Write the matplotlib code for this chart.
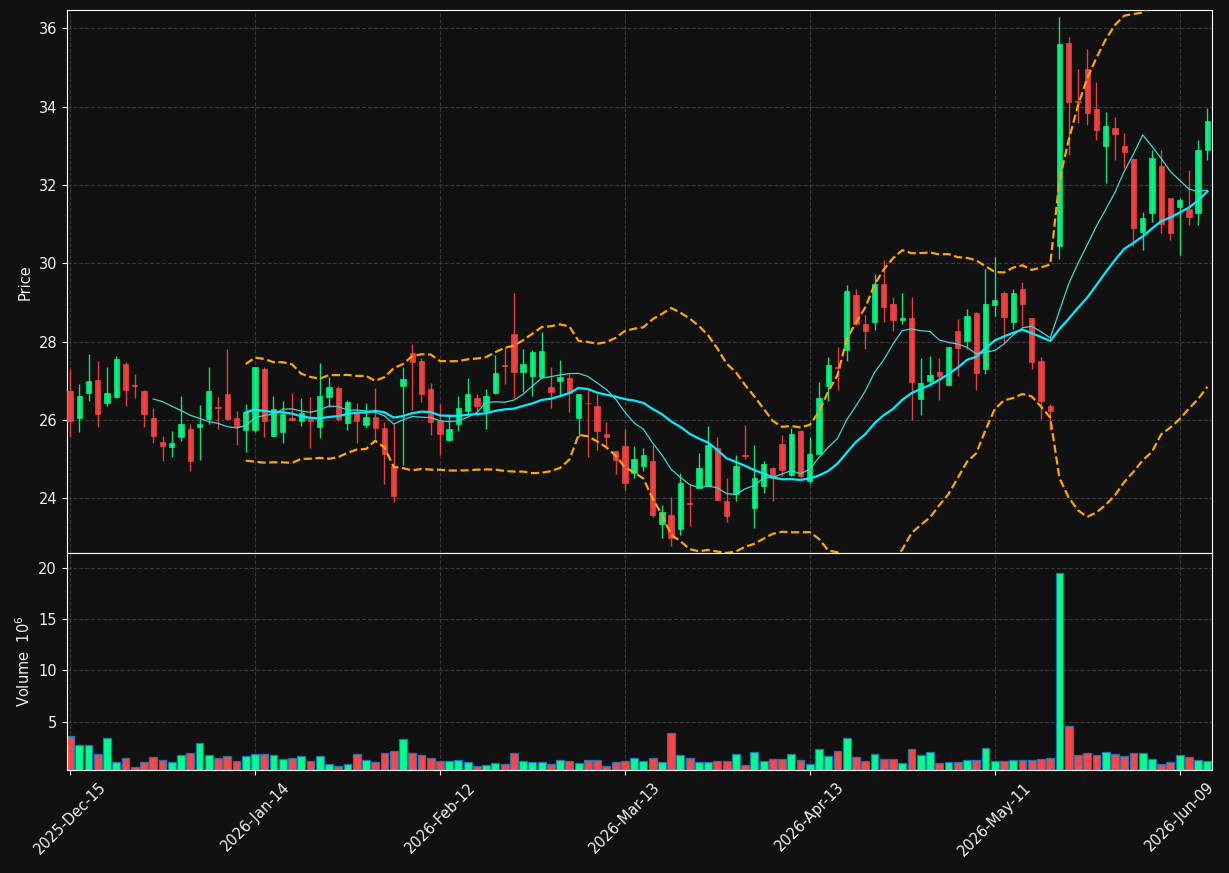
import numpy as np
import pandas as pd
import matplotlib
matplotlib.use("Agg")
import matplotlib.pyplot as plt

# daily OHLC, 124 trading sessions (2025-Dec-15 .. 2026-Jun-12)
opens = [26.74, 26.05, 26.69, 27.02, 26.42, 26.59, 27.42, 26.88, 26.74, 26.05,
         25.44, 25.30, 25.55, 25.77, 25.81, 26.03, 26.33, 26.66, 26.05, 25.75,
         25.75, 27.31, 25.60, 25.70, 26.04, 25.97, 26.04, 25.81, 26.59, 26.81,
         25.91, 26.18, 25.88, 26.08, 25.80, 24.83, 26.87, 27.70, 27.50, 26.79,
         25.97, 25.48, 25.89, 26.22, 26.57, 26.22, 26.69, 27.39, 28.19, 27.21,
         27.13, 27.10, 26.84, 26.98, 27.07, 26.04, 26.44, 26.36, 25.63, 25.20,
         25.32, 24.63, 24.82, 24.96, 23.35, 23.57, 23.20, 23.87, 24.27, 24.32,
         25.27, 23.92, 24.10, 25.11, 23.76, 24.31, 24.78, 25.39, 24.59, 25.72,
         24.44, 25.13, 26.87, 27.35, 27.78, 29.18, 28.45, 28.51, 29.48, 28.96,
         28.54, 28.60, 26.52, 26.99, 27.21, 26.90, 28.26, 28.01, 28.74, 27.31,
         28.94, 29.23, 28.51, 29.35, 28.59, 27.51, 26.36, 30.43, 35.63, 34.15,
         34.96, 33.94, 32.99, 33.46, 33.00, 32.67, 30.81, 31.29, 32.48, 31.66,
         31.43, 31.38, 31.28, 32.90]
highs = [27.31, 26.92, 27.69, 27.51, 27.34, 27.64, 27.49, 27.17, 26.77, 26.30,
         25.58, 25.71, 26.60, 25.90, 26.37, 27.36, 26.59, 27.81, 26.22, 26.41,
         27.36, 27.36, 26.60, 26.48, 26.68, 26.55, 26.59, 27.45, 27.10, 26.86,
         26.50, 26.42, 26.42, 26.81, 25.94, 25.90, 27.34, 27.93, 27.57, 26.94,
         26.40, 26.14, 26.62, 27.08, 26.65, 26.78, 27.65, 27.85, 29.24, 27.82,
         27.78, 28.25, 27.34, 27.53, 27.16, 26.67, 26.75, 26.68, 25.94, 25.21,
         25.76, 25.33, 25.28, 25.37, 23.83, 24.04, 24.63, 24.34, 25.16, 25.84,
         25.56, 24.52, 25.10, 25.87, 25.37, 24.96, 24.79, 25.62, 25.79, 25.73,
         25.55, 26.96, 27.61, 27.87, 29.45, 29.33, 28.68, 29.73, 30.08, 29.14,
         29.23, 29.13, 27.59, 27.63, 27.59, 27.85, 28.57, 28.82, 28.75, 29.85,
         30.16, 29.30, 29.34, 29.52, 28.60, 27.60, 26.41, 36.29, 35.77, 34.96,
         35.47, 34.64, 33.86, 33.73, 33.32, 32.68, 31.32, 32.88, 32.88, 31.67,
         31.66, 32.39, 33.14, 33.97]
lows = [25.56, 25.68, 26.49, 25.81, 26.35, 26.55, 26.35, 26.55, 25.81, 25.41,
        24.94, 25.05, 25.45, 24.69, 24.97, 25.90, 25.76, 25.99, 25.35, 25.18,
        25.69, 25.56, 25.58, 25.41, 25.96, 25.84, 25.28, 25.53, 26.34, 25.97,
        25.75, 25.41, 25.79, 25.51, 24.36, 23.89, 24.84, 26.25, 26.45, 25.61,
        25.09, 25.47, 25.72, 26.16, 26.10, 25.76, 26.65, 26.92, 26.58, 26.70,
        26.61, 27.09, 26.30, 26.62, 26.20, 25.57, 25.04, 25.23, 25.33, 24.61,
        24.21, 24.51, 24.69, 23.51, 22.99, 22.78, 23.07, 23.30, 24.25, 24.31,
        23.95, 23.38, 23.92, 25.00, 23.24, 24.14, 23.93, 24.57, 24.57, 24.52,
        24.35, 25.12, 26.49, 26.76, 27.50, 28.42, 27.82, 28.29, 28.51, 28.26,
        28.45, 25.99, 26.12, 26.87, 26.50, 26.89, 27.13, 27.80, 26.76, 27.17,
        28.65, 27.97, 28.31, 28.40, 27.31, 26.02, 25.74, 30.11, 32.77, 33.59,
        33.54, 33.14, 32.04, 32.63, 32.42, 30.43, 30.34, 31.06, 30.77, 30.60,
        30.22, 30.98, 30.98, 32.63]
closes = [25.98, 26.60, 26.99, 26.16, 26.69, 27.55, 26.75, 26.86, 26.14, 25.60,
          25.32, 25.42, 25.90, 24.94, 25.89, 26.74, 26.29, 26.01, 25.83, 26.19,
          27.35, 25.98, 26.27, 26.15, 26.00, 26.17, 25.98, 26.61, 26.84, 26.03,
          26.46, 25.98, 26.07, 25.78, 25.12, 24.05, 27.04, 27.48, 26.66, 25.94,
          25.64, 25.76, 26.29, 26.67, 26.35, 26.62, 27.20, 27.37, 27.21, 27.43,
          27.73, 27.76, 26.70, 27.10, 26.69, 26.67, 26.42, 25.71, 25.55, 24.97,
          24.39, 25.01, 25.11, 23.58, 23.65, 22.97, 24.38, 23.85, 24.76, 25.37,
          23.96, 23.54, 24.83, 25.08, 24.51, 24.88, 24.51, 24.72, 25.65, 24.56,
          25.13, 26.55, 27.41, 27.33, 29.29, 28.45, 28.26, 29.48, 28.89, 28.55,
          28.60, 26.97, 26.94, 27.14, 27.11, 27.85, 27.83, 28.66, 27.20, 28.95,
          29.07, 28.63, 29.25, 28.96, 27.48, 26.49, 26.23, 35.59, 34.11, 34.13,
          33.83, 33.41, 33.50, 33.31, 32.84, 30.91, 31.15, 32.68, 31.00, 30.78,
          31.61, 31.17, 32.88, 33.62]
# volume in millions
volumes = [3.63, 2.75, 2.75, 1.86, 3.43, 1.08, 1.47, 0.59, 1.08, 1.57,
           1.27, 1.08, 1.76, 1.96, 2.94, 1.76, 1.47, 1.67, 1.18, 1.67,
           1.86, 1.86, 1.76, 1.37, 1.47, 1.67, 1.18, 1.67, 0.88, 0.69,
           0.88, 1.86, 1.27, 1.08, 1.96, 2.16, 3.33, 1.96, 1.76, 1.47,
           1.18, 1.18, 1.27, 1.08, 0.69, 0.78, 0.98, 0.88, 1.96, 1.18,
           1.08, 1.08, 0.88, 1.27, 1.18, 0.98, 1.27, 1.27, 0.69, 1.08,
           1.18, 1.47, 1.18, 1.47, 1.08, 3.92, 1.76, 1.47, 1.08, 1.08,
           1.18, 1.18, 1.86, 0.78, 2.06, 1.18, 1.37, 1.37, 1.86, 1.27,
           0.88, 2.35, 1.67, 2.16, 3.43, 1.57, 1.18, 1.86, 1.37, 1.37,
           0.98, 2.35, 1.76, 2.06, 0.98, 1.08, 1.08, 1.27, 1.27, 2.45,
           1.18, 1.18, 1.27, 1.27, 1.27, 1.37, 1.47, 19.5, 4.61, 1.76,
           1.96, 1.76, 2.06, 1.86, 1.67, 1.96, 1.96, 1.37, 0.88, 1.08,
           1.76, 1.57, 1.27, 1.18]

tick_pos = [0, 20, 40, 60, 80, 100, 120]
tick_labels = ["2025-Dec-15", "2026-Jan-14", "2026-Feb-12", "2026-Mar-13",
               "2026-Apr-13", "2026-May-11", "2026-Jun-09"]

BG = "#111111"
UP, DOWN = "#00ff88", "#ff4444"
FG = "#f0f0f0"

df = pd.DataFrame({"open": opens, "high": highs, "low": lows,
                   "close": closes, "volume": volumes})
x = np.arange(len(df))
ma10 = df["close"].rolling(10).mean()
ma20 = df["close"].rolling(20).mean()
sd20 = df["close"].rolling(20).std(ddof=0)
bb_up = ma20 + 2 * sd20
bb_lo = ma20 - 2 * sd20

up = df["close"] >= df["open"]
colors = np.where(up, UP, DOWN)

fig = plt.figure(figsize=(12.29, 8.73), dpi=100, facecolor=BG)
ax = fig.add_axes([0.0543, 0.3666, 0.9319, 0.6216], facecolor=BG)
axv = fig.add_axes([0.0543, 0.118, 0.9319, 0.2486], facecolor=BG, sharex=ax)

for a in (ax, axv):
    a.grid(True, color="#3a3a3a", linestyle="--", linewidth=0.8)
    a.set_axisbelow(True)
    for s in a.spines.values():
        s.set_color("white")
    a.tick_params(colors=FG, labelsize=10.5)

# candles
ax.vlines(x, df["low"], df["high"], colors=colors, linewidth=1, alpha=0.9, zorder=2)
body_lo = np.minimum(df["open"], df["close"])
body_h = np.maximum(np.abs(df["close"] - df["open"]), 0.02)
ax.bar(x, body_h, bottom=body_lo, width=0.58, color=colors, edgecolor=colors,
       linewidth=0.5, alpha=0.9, zorder=3)

ax.plot(x, ma10, color="#40d8d0", linewidth=0.9, zorder=4)
ax.plot(x, ma20, color="#00eeff", linewidth=1.6, zorder=4)
ax.plot(x, bb_up, color="#ffa500", linewidth=1.6, linestyle="--", zorder=4)
ax.plot(x, bb_lo, color="#ffa500", linewidth=1.6, linestyle="--", zorder=4)

ax.set_ylim(22.6, 36.46)
ax.set_yticks(np.arange(24, 37, 2))
ax.set_ylabel("Price", color=FG, fontsize=10.5)
ax.tick_params(axis="x", labelbottom=False, length=0)

# volume
axv.bar(x, df["volume"], width=0.85, color=colors, edgecolor="#1f77b4", linewidth=0.9)
axv.set_ylim(0.27, 21.45)
axv.set_yticks([5, 10, 15, 20])
axv.set_ylabel("Volume  $10^6$", color=FG, fontsize=10.5)
axv.set_xlim(-0.36, 123.5)
axv.set_xticks(tick_pos)
axv.set_xticklabels(tick_labels, rotation=45, ha="center")

fig.savefig("out.png", dpi=100, facecolor=BG)
